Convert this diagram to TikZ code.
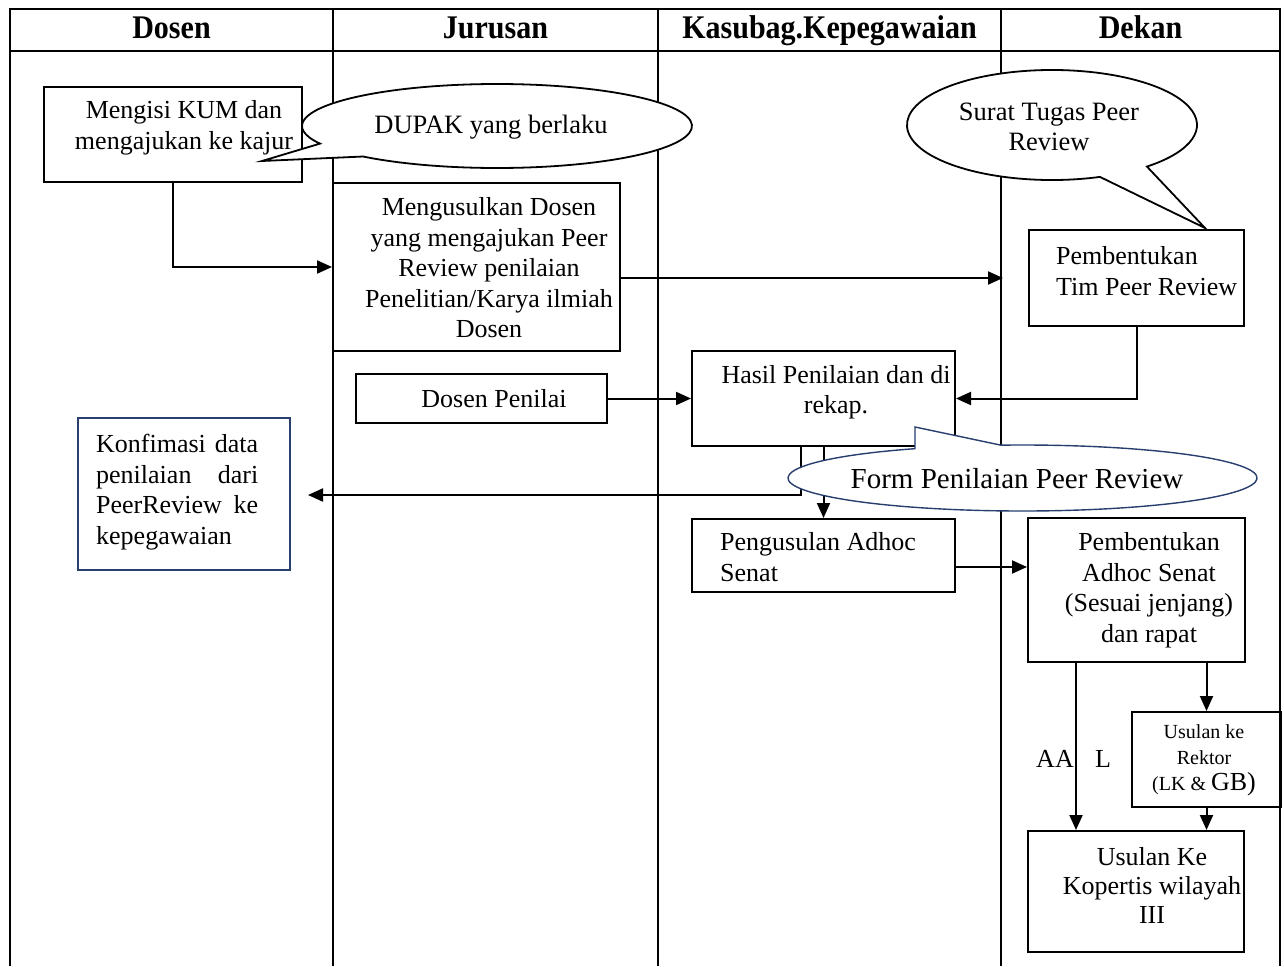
\documentclass[tikz,border=0pt]{standalone}
\usepackage{graphicx}
\usepackage{fontspec}
\setmainfont{Liberation Serif}
\usetikzlibrary{arrows.meta,calc}
\definecolor{navy}{RGB}{40,62,110}
\newcommand{\hdtext}[1]{\scalebox{0.91}[1]{#1}}
\tikzset{
  box/.style={draw, line width=2pt, inner sep=0pt},
  txt/.style={inner sep=0pt, font=\fontsize{26}{30.5}\selectfont, align=center},
  hdr/.style={inner sep=0pt, anchor=base, font=\fontsize{33}{33}\selectfont\bfseries},
  arr/.style={line width=2pt, -{Triangle[length=15pt,width=13pt]}},
  lane/.style={line width=1.8pt},
  frame/.style={line width=2.6pt},
  callout/.style={draw, line width=1.8pt, fill=white, line join=miter},
}
\begin{document}
\begin{tikzpicture}[x=1pt,y=1pt]
\useasboundingbox (0,0) rectangle (1284,-966);
% table
\draw[frame] (10,-966) -- (10,-9) -- (1280,-9) -- (1280,-966);
\draw[frame] (10,-51) -- (1280,-51);
\draw[lane] (333,-9) -- (333,-966);
\draw[lane] (658,-9) -- (658,-966);
\draw[lane] (1001,-9) -- (1001,-966);
\node[hdr] (hd1) at (171.5,-39) {\hdtext{Dosen}};
\node[hdr] (hd2) at (495.5,-39) {\hdtext{Jurusan}};
\node[hdr] (hd3) at (829.5,-39) {\hdtext{Kasubag.Kepegawaian}};
\node[hdr] (hd4) at (1140.5,-39) {\hdtext{Dekan}};
% boxes
\node[box, minimum width=258pt, minimum height=95pt] (b1) at (173,-134) {};
\node[box, minimum width=287pt, minimum height=168pt] (b2) at (476.5,-267) {};
\node[box, minimum width=215pt, minimum height=96pt] (tim) at (1136.5,-278) {};
\node[box, minimum width=251pt, minimum height=49pt] (pen) at (481.5,-398.5) {};
\node[box, minimum width=263pt, minimum height=95pt] (hasil) at (823.5,-398.5) {};
\node[box, draw=navy, minimum width=212pt, minimum height=152pt] (konf) at (184,-494) {};
\node[box, minimum width=263pt, minimum height=73pt] (peng) at (823.5,-555.5) {};
\node[box, minimum width=217pt, minimum height=144pt] (adhoc) at (1136.5,-590) {};
\node[box, minimum width=149pt, minimum height=95pt] (rektor) at (1206.5,-759.5) {};
\node[box, minimum width=216pt, minimum height=121pt] (kop) at (1136,-891.5) {};
% box texts
\node[txt] (t1) at (184,-128) {Mengisi KUM dan\\mengajukan ke kajur};
\node[txt] (t2) at (489,-268) {Mengusulkan Dosen\\yang mengajukan Peer\\Review penilaian\\Penelitian/Karya ilmiah\\Dosen};
\node[txt, align=left, anchor=west] (ttim) at (1056,-271) {Pembentukan\\Tim Peer Review};
\node[txt] (tpen) at (494,-399) {Dosen Penilai};
\node[txt] (thas) at (836,-392) {Hasil Penilaian dan di\\rekap.};
\node[txt, text width=162pt, align=left, anchor=west] (tkonf) at (96,-492) {Konfimasi\hfill data\\penilaian\hfill dari\\PeerReview\hfill ke\\kepegawaian};
\node[txt, align=left, anchor=west] (tpeng) at (720,-557) {Pengusulan Adhoc\\Senat};
\node[txt] (tadh) at (1149,-590) {Pembentukan\\Adhoc Senat\\(Sesuai jenjang)\\dan rapat};
\node[txt, font=\fontsize{20}{26}\selectfont] (trek) at (1204,-760) {Usulan ke\\Rektor\\(LK \& {\fontsize{26}{26}\selectfont GB)}};
\node[txt, font=\fontsize{26}{29}\selectfont] (tkop) at (1152,-885) {Usulan Ke\\Kopertis wilayah\\III};
\node[txt] (taa) at (1055,-759) {AA};
\node[txt] (tl) at (1103,-759) {L};
% connectors
\draw[arr] (b1.south) |- (b2.west);
\coordinate (b2o) at ([yshift=-11pt]b2.east);
\coordinate (timin) at (1003,-278);
\draw[arr] (b2o) -- (timin);
\draw[arr] (tim.south) |- (hasil.east);
\draw[arr] (pen.east) -- (pen.east -| hasil.west);
\coordinate (h1) at ([xshift=-22.5pt]hasil.south);
\coordinate (konfin) at (308,-495);
\draw[arr] (h1) |- (konfin);
\draw[arr] (hasil.south) -- (peng.north);
\coordinate (pa) at ([yshift=-11.5pt]peng.east);
\draw[arr] (pa) -- (pa -| adhoc.west);
\coordinate (aa0) at ([xshift=-60.5pt]adhoc.south);
\draw[arr] (aa0) -- (aa0 |- kop.north);
\draw[arr] (rektor.north |- adhoc.south) -- (rektor.north);
\draw[arr] (rektor.south) -- (rektor.south |- kop.north);
% callouts
\draw[callout] (262,-161) -- ($(497,-126)+(226.6:195 and 42)$) arc[start angle=226.6, end angle=564.8, x radius=195, y radius=42] -- cycle;
\node[txt, font=\fontsize{26.5}{30}\selectfont] (dupak) at (491,-127) {DUPAK yang berlaku};
\draw[callout] (1205,-228) -- ($(1052,-125)+(289.3:145 and 55)$) arc[start angle=289.3, end angle=-49.1, x radius=145, y radius=55] -- cycle;
\node[txt, font=\fontsize{26.5}{30}\selectfont] (surat) at (1049,-127) {Surat Tugas Peer\\Review};
\draw[callout, draw=navy, line width=1.4pt] (915,-427) -- ($(1022.5,-478)+(117.3:234.5 and 33)$) arc[start angle=117.3, end angle=455.3, x radius=234.5, y radius=33] -- cycle;
\node[txt, font=\fontsize{29}{30}\selectfont] (form) at (1017,-479) {Form Penilaian Peer Review};
\end{tikzpicture}
\end{document}
